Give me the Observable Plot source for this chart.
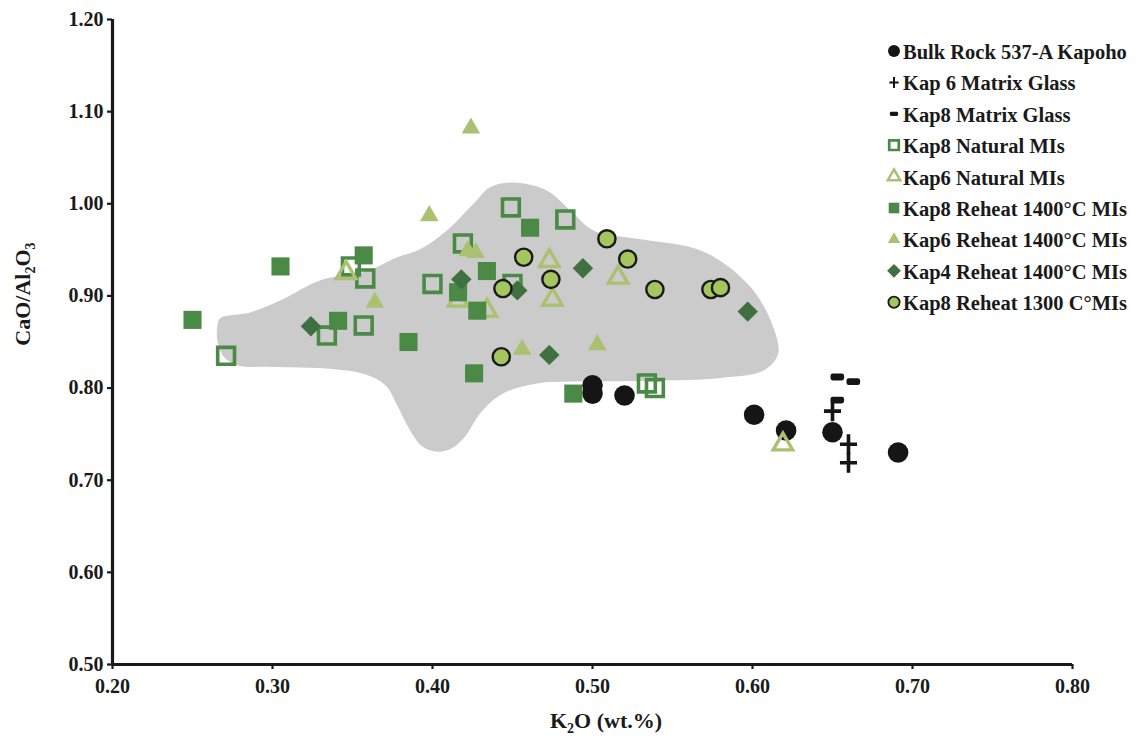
<!DOCTYPE html>
<html>
<head>
<meta charset="utf-8">
<script src="https://cdn.jsdelivr.net/npm/d3@7"></script>
<script src="https://cdn.jsdelivr.net/npm/@observablehq/plot@0.6"></script>
<style>
  body { margin: 0; background: #fff; }
  #chart { width: 1138px; height: 742px; }
</style>
</head>
<body>
<div id="chart"></div>
<script>
// K2O (wt.%) vs CaO/Al2O3 for Kapoho bulk rock, matrix glasses and melt inclusions

const xTicks = [0.2, 0.3, 0.4, 0.5, 0.6, 0.7, 0.8];
const yTicks = [0.5, 0.6, 0.7, 0.8, 0.9, 1.0, 1.1, 1.2];

// Bulk Rock 537-A Kapoho
const bulkK2O   = [0.500, 0.500, 0.520, 0.601, 0.621, 0.650, 0.691];
const bulkRatio = [0.803, 0.794, 0.792, 0.771, 0.754, 0.752, 0.730];

// Kap 6 Matrix Glass
const kap6GlassK2O   = [0.650, 0.660, 0.660];
const kap6GlassRatio = [0.775, 0.739, 0.719];

// Kap8 Matrix Glass
const kap8GlassK2O   = [0.653, 0.663, 0.653];
const kap8GlassRatio = [0.812, 0.807, 0.787];

// Kap8 Natural MIs
const kap8NatK2O   = [0.271, 0.334, 0.349, 0.358, 0.357, 0.400, 0.419, 0.449, 0.450, 0.483, 0.534, 0.539];
const kap8NatRatio = [0.835, 0.857, 0.932, 0.919, 0.868, 0.913, 0.957, 0.996, 0.913, 0.983, 0.805, 0.800];

// Kap6 Natural MIs
const kap6NatK2O   = [0.346, 0.416, 0.434, 0.473, 0.475, 0.516, 0.619];
const kap6NatRatio = [0.925, 0.895, 0.884, 0.938, 0.896, 0.920, 0.739];

// Kap8 Reheat 1400°C MIs
const kap8RhK2O   = [0.250, 0.305, 0.341, 0.357, 0.385, 0.416, 0.426, 0.428, 0.434, 0.461, 0.488];
const kap8RhRatio = [0.874, 0.932, 0.873, 0.944, 0.850, 0.904, 0.816, 0.884, 0.927, 0.974, 0.794];

// Kap6 Reheat 1400°C MIs
const kap6RhK2O   = [0.364, 0.398, 0.422, 0.424, 0.427, 0.456, 0.503];
const kap6RhRatio = [0.893, 0.987, 0.949, 1.082, 0.947, 0.842, 0.847];

// Kap4 Reheat 1400°C MIs
const kap4RhK2O   = [0.324, 0.418, 0.453, 0.473, 0.494, 0.597];
const kap4RhRatio = [0.867, 0.918, 0.906, 0.836, 0.930, 0.883];

// Kap8 Reheat 1300 C°MIs
const kap8Rh1300K2O   = [0.443, 0.444, 0.457, 0.474, 0.509, 0.522, 0.539, 0.574, 0.580];
const kap8Rh1300Ratio = [0.834, 0.908, 0.942, 0.918, 0.962, 0.940, 0.907, 0.907, 0.909];

// Outline of the shaded field (K2O, CaO/Al2O3), traced clockwise
const fieldK2O = [0.2675, 0.286, 0.307, 0.330, 0.359, 0.378, 0.3925, 0.409, 0.4256, 0.436, 0.451, 0.472, 0.486, 0.5006,
                  0.528, 0.563, 0.580, 0.6006, 0.613, 0.616, 0.607, 0.580, 0.538, 0.486, 0.4656, 0.444, 0.430, 0.4206,
                  0.4125, 0.403, 0.394, 0.386, 0.378, 0.3706, 0.358, 0.336, 0.299, 0.280, 0.270, 0.2656, 0.2656];
const fieldRatio = [0.876, 0.882, 0.897, 0.917, 0.927, 0.942, 0.951, 0.971, 1.000, 1.018, 1.023, 1.014, 0.993, 0.971,
                    0.962, 0.952, 0.938, 0.906, 0.866, 0.837, 0.819, 0.811, 0.808, 0.807, 0.805, 0.794, 0.773, 0.748,
                    0.735, 0.731, 0.736, 0.754, 0.781, 0.803, 0.815, 0.821, 0.823, 0.824, 0.833, 0.851, 0.868];

// Custom symbols: a stroked-looking plus and a small rounded bar
const plusSymbol = {
  draw(ctx, size) {
    const k = Math.sqrt(size) / 18;
    const w = 8.5 * k, h = 10 * k, t = 1.8 * k;
    ctx.moveTo(-t, -h); ctx.lineTo(t, -h); ctx.lineTo(t, -t); ctx.lineTo(w, -t);
    ctx.lineTo(w, t); ctx.lineTo(t, t); ctx.lineTo(t, h); ctx.lineTo(-t, h);
    ctx.lineTo(-t, t); ctx.lineTo(-w, t); ctx.lineTo(-w, -t); ctx.lineTo(-t, -t);
    ctx.closePath();
  }
};
const barSymbol = {
  draw(ctx, size) {
    const k = Math.sqrt(size) / 18;
    const w = 6.8 * k, h = 3.4 * k, r = 2.4 * k;
    ctx.moveTo(-w + r, -h);
    ctx.lineTo(w - r, -h); ctx.arcTo(w, -h, w, -h + r, r);
    ctx.lineTo(w, h - r); ctx.arcTo(w, h, w - r, h, r);
    ctx.lineTo(-w + r, h); ctx.arcTo(-w, h, -w, h - r, r);
    ctx.lineTo(-w, -h + r); ctx.arcTo(-w, -h, -w + r, -h, r);
    ctx.closePath();
  }
};

const black = "#151515";
const green = "#4b8946";
const lightGreen = "#a9c170";
const darkGreen = "#3f7140";
const circleGreen = "#a3c65f";

const groups = [
  {label: "Bulk Rock 537-A Kapoho", xs: bulkK2O, ys: bulkRatio, symbol: "circle", r: 10.3, fill: black, stroke: "none", sw: 0, lr: 6},
  {label: "Kap 6 Matrix Glass", xs: kap6GlassK2O, ys: kap6GlassRatio, symbol: plusSymbol, r: 10.2, fill: black, stroke: "none", sw: 0, lr: 5.6},
  {label: "Kap8 Matrix Glass", xs: kap8GlassK2O, ys: kap8GlassRatio, symbol: barSymbol, r: 10.2, fill: black, stroke: "none", sw: 0, lr: 6.2},
  {label: "Kap8 Natural MIs", xs: kap8NatK2O, ys: kap8NatRatio, symbol: "square", r: 9.5, fill: "none", stroke: green, sw: 3.6, lr: 5.4},
  {label: "Kap6 Natural MIs", xs: kap6NatK2O, ys: kap6NatRatio, symbol: "triangle", r: 7.2, fill: "none", stroke: lightGreen, sw: 3.4, lr: 4.6},
  {label: "Kap8 Reheat 1400°C MIs", xs: kap8RhK2O, ys: kap8RhRatio, symbol: "square", r: 10.2, fill: green, stroke: "none", sw: 0, lr: 6},
  {label: "Kap6 Reheat 1400°C MIs", xs: kap6RhK2O, ys: kap6RhRatio, symbol: "triangle", r: 6.9, fill: lightGreen, stroke: "none", sw: 0, lr: 4.6},
  {label: "Kap4 Reheat 1400°C MIs", xs: kap4RhK2O, ys: kap4RhRatio, symbol: "diamond2", r: 9.2, fill: darkGreen, stroke: "none", sw: 0, lr: 6.2},
  {label: "Kap8 Reheat 1300 C°MIs", xs: kap8Rh1300K2O, ys: kap8Rh1300Ratio, symbol: "circle", r: 8.6, fill: circleGreen, stroke: "#1a1a1a", sw: 2.4, lr: 5.6}
];

const field = fieldK2O.map((k, i) => ({k2o: k, ratio: fieldRatio[i]}));

const dotMarks = groups.map(g =>
  Plot.dot(g.xs.map((x, i) => ({k2o: x, ratio: g.ys[i]})), {
    x: "k2o", y: "ratio", symbol: () => g.symbol, r: g.r,
    fill: g.fill, stroke: g.stroke, strokeWidth: g.sw
  })
);

const fmt = d3.format(".2f");

const chart = Plot.plot({
  width: 1138,
  height: 742,
  marginLeft: 112,
  marginRight: 66,
  marginTop: 19,
  marginBottom: 78,
  style: {fontFamily: "'Liberation Serif', 'Times New Roman', serif", fontWeight: "bold", fontSize: "20px", color: "#1a1a1a", background: "#fff"},
  x: {domain: [0.2, 0.8]},
  y: {domain: [0.5, 1.2]},
  symbol: {type: "identity"},
  marks: [
    Plot.line(field, {x: "k2o", y: "ratio", curve: "catmull-rom-closed", fill: "#cbcbcb", stroke: "none"}),
    ...dotMarks,
    Plot.axisX({ticks: xTicks, tickFormat: fmt, tickSize: 5, tickPadding: 9, strokeWidth: 2.2, label: null}),
    Plot.axisY({ticks: yTicks, tickFormat: fmt, tickSize: 5, tickPadding: 4, strokeWidth: 2.2, label: null}),
    Plot.ruleX([0.2], {stroke: "#1a1a1a", strokeWidth: 3.2}),
    Plot.ruleY([0.5], {stroke: "#1a1a1a", strokeWidth: 3.2})
  ]
});

document.getElementById("chart").appendChild(chart);

const svg = d3.select(chart);
const titleFont = "'Liberation Serif', 'Times New Roman', serif";

// Axis titles with subscripts
const xTitle = svg.append("text")
  .attr("x", 606).attr("y", 728)
  .attr("text-anchor", "middle")
  .attr("font-family", titleFont).attr("font-weight", "bold").attr("font-size", 22)
  .attr("fill", "#1a1a1a");
xTitle.append("tspan").text("K");
xTitle.append("tspan").attr("dy", 5).attr("font-size", 14).text("2");
xTitle.append("tspan").attr("dy", -5).text("O (wt.%)");

const yTitle = svg.append("text")
  .attr("transform", "translate(30,294) rotate(-90)")
  .attr("text-anchor", "middle")
  .attr("font-family", titleFont).attr("font-weight", "bold").attr("font-size", 22)
  .attr("fill", "#1a1a1a");
yTitle.append("tspan").text("CaO/Al");
yTitle.append("tspan").attr("dy", 5).attr("font-size", 14).text("2");
yTitle.append("tspan").attr("dy", -5).text("O");
yTitle.append("tspan").attr("dy", 5).attr("font-size", 14).text("3");

// Legend in the upper right of the plot area
const legend = svg.append("g")
  .attr("font-family", titleFont).attr("font-weight", "bold").attr("font-size", 20.5)
  .attr("text-anchor", "start");
groups.forEach((g, i) => {
  const cy = 52 + i * 31.4;
  const sym = typeof g.symbol === "string"
    ? {circle: d3.symbolCircle, square: d3.symbolSquare, triangle: d3.symbolTriangle, diamond2: d3.symbolDiamond2}[g.symbol]
    : g.symbol;
  legend.append("path")
    .attr("transform", `translate(894,${cy - 1})`)
    .attr("d", d3.symbol(sym, Math.PI * g.lr * g.lr)())
    .attr("fill", g.fill)
    .attr("stroke", g.stroke)
    .attr("stroke-width", g.sw ? g.sw * 0.75 : 0);
  legend.append("text")
    .attr("x", 903).attr("y", cy + 7)
    .attr("text-anchor", "start")
    .attr("fill", "#1a1a1a")
    .text(g.label);
});
</script>
</body>
</html>
